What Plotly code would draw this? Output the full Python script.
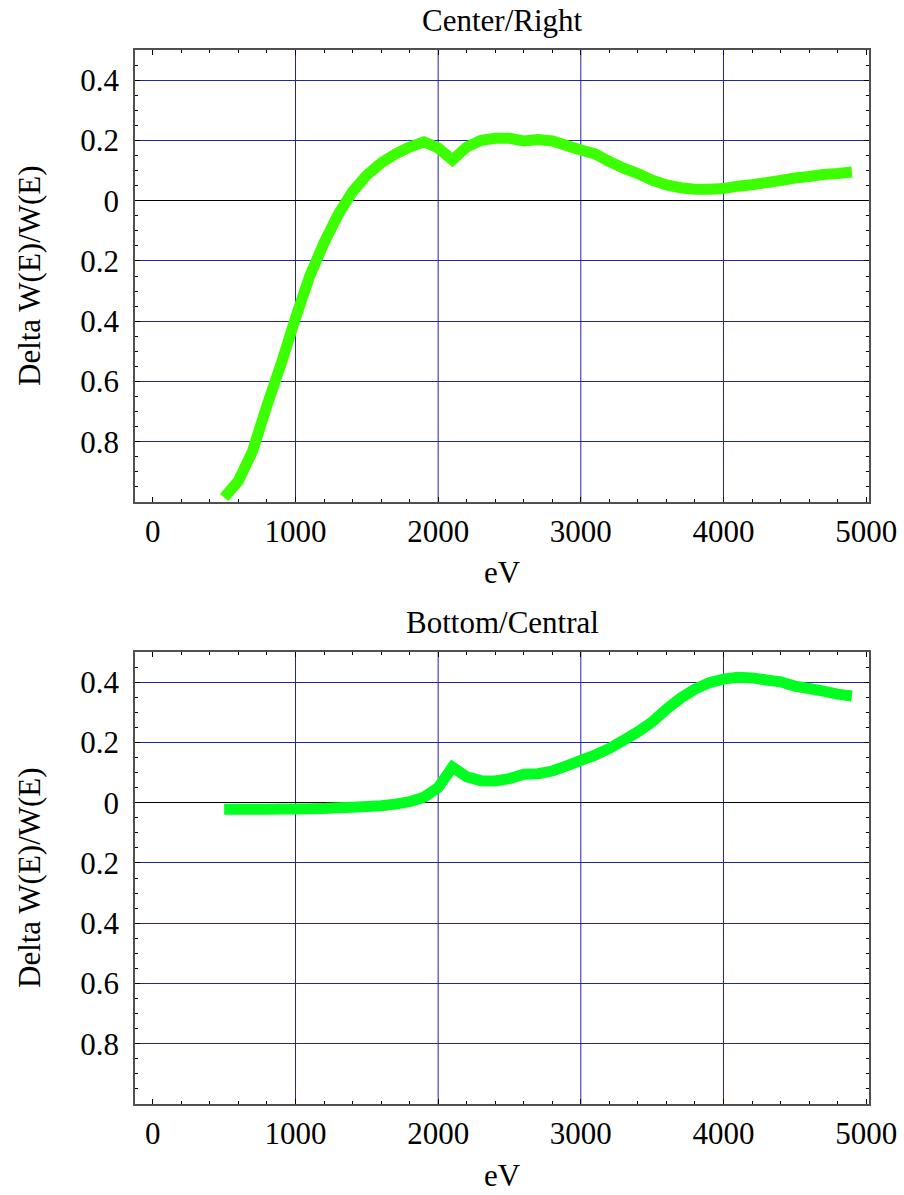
import plotly.graph_objects as go

# ---- data ----
energy_ev = [500, 600, 700, 800, 900, 1000, 1100, 1200, 1300, 1400, 1500, 1600, 1700, 1800, 1900,
             2000, 2100, 2200, 2300, 2400, 2500, 2600, 2700, 2800, 2900, 3000, 3100, 3200, 3300,
             3400, 3500, 3600, 3700, 3800, 3900, 4000, 4100, 4200, 4300, 4400, 4500, 4600, 4700,
             4800, 4900]

center_right = [-0.985, -0.93, -0.83, -0.68, -0.54, -0.39, -0.25, -0.14, -0.045, 0.03, 0.085,
                0.125, 0.155, 0.178, 0.195, 0.175, 0.135, 0.178, 0.200, 0.207, 0.207, 0.198,
                0.203, 0.198, 0.183, 0.168, 0.155, 0.130, 0.108, 0.090, 0.068, 0.052, 0.043,
                0.038, 0.038, 0.040, 0.048, 0.053, 0.060, 0.067, 0.075, 0.080, 0.087, 0.090,
                0.095]

bottom_central = [-0.022, -0.022, -0.022, -0.022, -0.021, -0.021, -0.020, -0.019, -0.017,
                  -0.015, -0.013, -0.010, -0.005, 0.003, 0.018, 0.050, 0.118, 0.086, 0.073,
                  0.072, 0.080, 0.094, 0.096, 0.105, 0.122, 0.140, 0.158, 0.180, 0.207, 0.235,
                  0.268, 0.310, 0.347, 0.377, 0.398, 0.410, 0.416, 0.414, 0.407, 0.401, 0.387,
                  0.379, 0.370, 0.360, 0.354]

panel_titles = ["Center/Right", "Bottom/Central"]
y_tick_vals = [0.4, 0.2, 0, -0.2, -0.4, -0.6, -0.8]
y_tick_text = ["0.4", "0.2", "0", "0.2", "0.4", "0.6", "0.8"]
x_tick_vals = [0, 1000, 2000, 3000, 4000, 5000]
x_tick_text = ["0", "1000", "2000", "3000", "4000", "5000"]
x_grid_vals = [1000, 2000, 3000, 4000]

# ---- style ----
W, H = 904, 1195
FONT = "Liberation Serif"
FS = 31
GRID = "#2424a4"
FRAME = "#505050"

def px(x):
    return x / W

def py(y):
    return 1 - y / H

panels = [
    dict(top=50, bottom=502, color="#3cff00", data=center_right),
    dict(top=652, bottom=1104, color="#00ff20", data=bottom_central),
]
left, right = 135, 869

fig = go.Figure()
annotations = []
shapes = []

for i, p in enumerate(panels, start=1):
    xa = "x" if i == 1 else f"x{i}"
    ya = "y" if i == 1 else f"y{i}"
    fig.add_trace(go.Scatter(
        x=energy_ev, y=p["data"], mode="lines",
        line=dict(color=p["color"], width=11, simplify=False),
        xaxis=xa, yaxis=ya, showlegend=False,
    ))
    xkey = "xaxis" if i == 1 else f"xaxis{i}"
    ykey = "yaxis" if i == 1 else f"yaxis{i}"
    fig.layout[xkey] = dict(
        domain=[px(left), px(right)], anchor=ya, range=[-125, 5020],
        automargin=False,
        tickmode="array", tickvals=x_tick_vals, ticktext=x_tick_text,
        ticks="inside", ticklen=5, tickcolor="black", tickwidth=1,
        minor=dict(ticks="inside", ticklen=3, tickmode="linear", tick0=0, dtick=200,
                   tickcolor="black", showgrid=False),
        showgrid=False, zeroline=False,
        showline=True, linecolor=FRAME, linewidth=1.5, mirror="allticks",
        tickfont=dict(family=FONT, size=FS, color="black"),
        ticklabelstandoff=1,
    )
    fig.layout[ykey] = dict(
        domain=[py(p["bottom"]), py(p["top"])], anchor=xa, range=[-1.0, 0.5],
        automargin=False,
        tickmode="array", tickvals=y_tick_vals, ticktext=y_tick_text,
        ticks="inside", ticklen=5, tickcolor="black", tickwidth=1,
        minor=dict(ticks="inside", ticklen=3, tickmode="linear", tick0=0, dtick=0.05,
                   tickcolor="black", showgrid=False),
        showgrid=True, gridcolor=GRID, gridwidth=1,
        zeroline=True, zerolinecolor="black", zerolinewidth=1,
        showline=True, linecolor=FRAME, linewidth=1.5, mirror="allticks",
        tickfont=dict(family=FONT, size=FS, color="black"),
        ticklabelstandoff=8,
    )
    for gx in x_grid_vals:
        shapes.append(dict(type="line", xref=xa, yref=f"{ya} domain",
                           x0=gx, x1=gx, y0=0, y1=1, layer="below",
                           line=dict(color=GRID, width=1)))
    # panel title
    annotations.append(dict(text=panel_titles[i - 1], xref="paper", yref="paper",
                            x=px((left + right) / 2), y=py(p["top"] - 30),
                            xanchor="center", yanchor="middle", showarrow=False,
                            font=dict(family=FONT, size=FS, color="black")))
    # x title
    annotations.append(dict(text="eV", xref="paper", yref="paper",
                            x=px(502), y=py(p["bottom"] + 71),
                            xanchor="center", yanchor="middle", showarrow=False,
                            font=dict(family=FONT, size=FS, color="black")))
    # y title
    annotations.append(dict(text="Delta W(E)/W(E)", xref="paper", yref="paper",
                            x=px(29), y=py((p["top"] + p["bottom"]) / 2),
                            xanchor="center", yanchor="middle", textangle=-90,
                            showarrow=False,
                            font=dict(family=FONT, size=FS, color="black")))

fig.update_layout(
    template="none",
    width=W, height=H, margin=dict(l=0, r=0, t=0, b=0, autoexpand=False),
    font=dict(family=FONT, size=FS, color="black"),
    paper_bgcolor="white", plot_bgcolor="white",
    annotations=annotations, shapes=shapes,
)

fig.write_html("out.html")
